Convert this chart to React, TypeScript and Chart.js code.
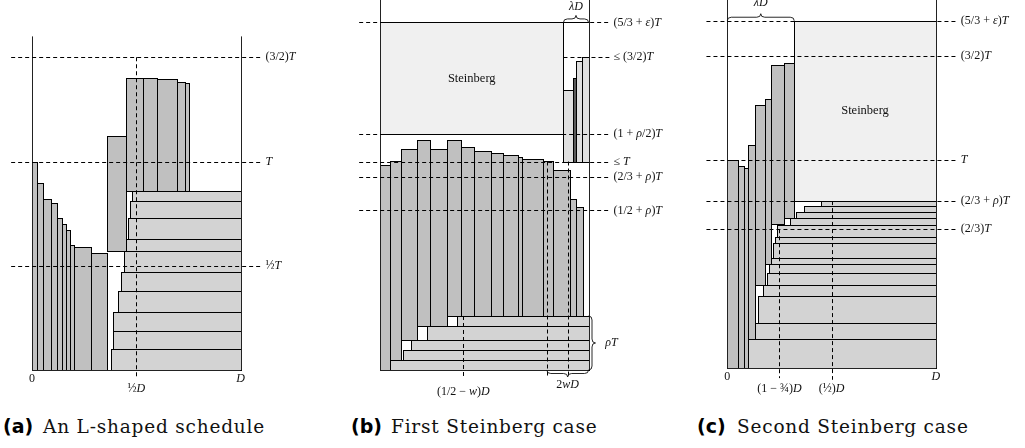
import React, { useEffect, useRef } from "react";
import { Chart, registerables } from "chart.js";

Chart.register(...registerables);

// Box = [x0, x1, y0, y1] with x in units of D and y in units of T
type Box = [number, number, number, number];

// ===== Panel (a): An L-shaped schedule =====
const aShortJobs: Box[] = [
  [0, 0.0225, 0, 1.0],
  [0.0225, 0.051, 0, 0.899],
  [0.051, 0.091, 0, 0.819],
  [0.091, 0.121, 0, 0.8],
  [0.121, 0.142, 0, 0.73],
  [0.142, 0.162, 0, 0.699],
  [0.162, 0.182, 0, 0.672],
  [0.182, 0.201, 0, 0.6],
  [0.201, 0.282, 0, 0.589],
  [0.282, 0.361, 0, 0.56],
];
const aMovedJob: Box[] = [[0.361, 0.451, 0.57, 1.123]];
const aTallJobs: Box[] = [
  [0.451, 0.531, 0.859, 1.4],
  [0.531, 0.601, 0.859, 1.4],
  [0.601, 0.694, 0.859, 1.397],
  [0.694, 0.734, 0.859, 1.38],
  [0.734, 0.752, 0.859, 1.376],
];
const aWideJobs: Box[] = [
  [0.38, 1, 0, 0.099],
  [0.39, 1, 0.099, 0.189],
  [0.39, 1, 0.189, 0.278],
  [0.411, 1, 0.278, 0.379],
  [0.428, 1, 0.379, 0.469],
  [0.44, 1, 0.469, 0.57],
  [0.451, 1, 0.57, 0.629],
  [0.46, 1, 0.629, 0.73],
  [0.47, 1, 0.73, 0.81],
  [0.481, 1, 0.81, 0.859],
];
const aLevels = [1.5, 1, 0.5];
const aLevelFrom = [-0.1, -0.1, -0.1];
const aLevelLabels = ["(3/2)T", "T", "½T"];
const aXTicks = [0, 0.5, 1];
const aXTickY = [-0.043, -0.09, -0.043];
const aXLabels = ["0", "½D", "D"];
const aVDash: [number, number, number][] = [[0.5, -0.04, 1.5]];

// ===== Panel (b): First Steinberg case =====
const bTallJobs: Box[] = [
  [0, 0.05, 0, 0.983],
  [0.05, 0.099, 0.05, 1.002],
  [0.099, 0.179, 0.142, 1.061],
  [0.179, 0.24, 0.211, 1.101],
  [0.24, 0.319, 0.211, 1.061],
  [0.319, 0.39, 0.259, 1.101],
  [0.39, 0.45, 0.259, 1.071],
  [0.45, 0.53, 0.259, 1.05],
  [0.53, 0.589, 0.259, 1.04],
  [0.589, 0.661, 0.259, 1.031],
  [0.661, 0.68, 0.259, 1.021],
  [0.68, 0.781, 0.259, 1.011],
  [0.781, 0.829, 0.259, 1.002],
  [0.829, 0.909, 0.259, 0.961],
  [0.909, 0.941, 0.259, 0.819],
  [0.941, 0.973, 0.259, 0.781],
];
const bWideJobs: Box[] = [
  [0.05, 1, 0, 0.05],
  [0.108, 1, 0.05, 0.096],
  [0.15, 1, 0.096, 0.142],
  [0.227, 1, 0.142, 0.211],
  [0.37, 1, 0.211, 0.259],
];
const bSteinberg: Box[] = [[0, 0.88, 1.131, 1.667]];
const bLambdaBox: Box[] = [[0.88, 1, 1, 1.667]];
const bLambdaJobs: Box[] = [
  [0.88, 0.928, 1, 1.341],
  [0.941, 0.971, 1, 1.48],
  [0.971, 1, 1, 1.5],
];
const bLambdaDark: Box[] = [[0.928, 0.941, 1, 1.4]];
const bLevels = [1.667, 1.5, 1.131, 1, 0.928, 0.765];
const bLevelFrom = [-0.1, 0.88, -0.1, -0.1, -0.1, -0.1];
const bLevelLabels = ["(5/3 + ε)T", "≤ (3/2)T", "(1 + ρ/2)T", "≤ T", "(2/3 + ρ)T", "(1/2 + ρ)T"];
const bXTicks = [0.4, 0.9];
const bXTickY = [-0.105, -0.072];
const bXLabels = ["(1/2 − w)D", "2wD"];
const bVDash: [number, number, number][] = [
  [0.4, -0.03, 0.259],
  [0.8, -0.03, 1],
  [0.9, -0.03, 1],
];

// ===== Panel (c): Second Steinberg case =====
const cTallJobs: Box[] = [
  [0, 0.05, 0, 1.0],
  [0.05, 0.08, 0, 0.971],
  [0.08, 0.101, 0, 0.96],
  [0.101, 0.131, 0.139, 1.072],
  [0.131, 0.179, 0.4, 1.262],
  [0.179, 0.211, 0.5, 1.293],
  [0.211, 0.27, 0.693, 1.453],
  [0.27, 0.321, 0.723, 1.464],
];
const cWideJobs: Box[] = [
  [0.101, 1, 0, 0.139],
  [0.131, 1, 0.139, 0.219],
  [0.149, 1, 0.219, 0.349],
  [0.17, 1, 0.349, 0.398],
  [0.189, 1, 0.398, 0.459],
  [0.2, 1, 0.459, 0.501],
  [0.211, 1, 0.501, 0.531],
  [0.221, 1, 0.531, 0.6],
  [0.23, 1, 0.6, 0.63],
  [0.24, 1, 0.63, 0.688],
  [0.299, 1, 0.688, 0.72],
  [0.329, 1, 0.72, 0.749],
  [0.369, 1, 0.749, 0.779],
  [0.449, 1, 0.779, 0.802],
];
const cSteinberg: Box[] = [[0.321, 1, 0.802, 1.667]];
const cLevels = [1.667, 1.5, 1, 0.802, 0.667];
const cLevelFrom = [-0.1, -0.1, -0.1, -0.1, -0.1];
const cLevelLabels = ["(5/3 + ε)T", "(3/2)T", "T", "(2/3 + ρ)T", "(2/3)T"];
const cXTicks = [0, 0.25, 0.5, 1];
const cXTickY = [-0.042, -0.1, -0.1, -0.042];
const cXLabels = ["0", "(1 − ¾)D", "(½)D", "D"];
const cVDash: [number, number, number][] = [
  [0.25, -0.047, 0.667],
  [0.5, -0.055, 0.802],
];

// ===== Styling =====
const DARK = "#c0c0c0";
const LIGHT = "#d3d3d3";
const PALE = "#f0f0f0";
const LAMBDA = "#e0e0e0";
const LAMBDA_DARK = "#5a5a5a";
const MATH_FONT = '"Liberation Serif"';

type Group = { boxes: Box[]; fill: string };
type Brace = { p1: [number, number]; p2: [number, number]; dir: "up" | "down" | "right"; label?: string; lx?: number; ly?: number; align?: CanvasTextAlign };
type Spec = {
  groups: Group[];
  axisTop: number;
  levels: number[];
  levelFrom: number[];
  levelLabels: string[];
  xTicks: number[];
  xTickY: number[];
  xLabels: string[];
  vDash: [number, number, number][];
  braces: Brace[];
  title?: { box: Box; text: string };
};

function mathText(ctx: CanvasRenderingContext2D, s: string, x: number, y: number, align: CanvasTextAlign, size: number, plain = false) {
  const parts: { t: string; it: boolean }[] = [];
  for (const ch of s) {
    const it = !plain && /[A-Za-zελρ]/.test(ch);
    const last = parts[parts.length - 1];
    if (last && last.it === it) last.t += ch;
    else parts.push({ t: ch, it });
  }
  const fU = `${size}px ${MATH_FONT}`;
  const fI = `italic ${size}px ${MATH_FONT}`;
  let total = 0;
  const widths = parts.map((p) => {
    ctx.font = p.it ? fI : fU;
    const w = ctx.measureText(p.t).width;
    total += w;
    return w;
  });
  let cx = align === "center" ? x - total / 2 : align === "right" ? x - total : x;
  ctx.textBaseline = "middle";
  ctx.textAlign = "left";
  ctx.fillStyle = "#111";
  parts.forEach((p, i) => {
    ctx.font = p.it ? fI : fU;
    ctx.fillText(p.t, cx, y);
    cx += widths[i];
  });
}

function drawBrace(ctx: CanvasRenderingContext2D, x1: number, y1: number, x2: number, y2: number, nx: number, ny: number) {
  const dx = x2 - x1, dy = y2 - y1;
  const len = Math.hypot(dx, dy);
  const ux = dx / len, uy = dy / len;
  const r = Math.min(4, len / 5);
  const mx = (x1 + x2) / 2, my = (y1 + y2) / 2;
  const hx = nx / 2, hy = ny / 2;
  ctx.beginPath();
  ctx.moveTo(x1, y1);
  ctx.quadraticCurveTo(x1 + hx, y1 + hy, x1 + ux * r + hx, y1 + uy * r + hy);
  ctx.lineTo(mx - ux * r + hx, my - uy * r + hy);
  ctx.quadraticCurveTo(mx + hx, my + hy, mx + nx, my + ny);
  ctx.quadraticCurveTo(mx + hx, my + hy, mx + ux * r + hx, my + uy * r + hy);
  ctx.lineTo(x2 - ux * r + hx, y2 - uy * r + hy);
  ctx.quadraticCurveTo(x2 + hx, y2 + hy, x2, y2);
  ctx.stroke();
}

function makePlugin(spec: Spec) {
  return {
    id: "scheduleDraw",
    afterDraw(chart: any) {
      const ctx = chart.ctx as CanvasRenderingContext2D;
      const X = (v: number) => chart.scales.x.getPixelForValue(v);
      const Y = (v: number) => chart.scales.y.getPixelForValue(v);
      const snap = (p: number) => Math.round(p) + 0.5;
      ctx.save();
      ctx.lineWidth = 1;
      // rectangles
      for (const g of spec.groups) {
        for (const b of g.boxes) {
          const x0 = snap(X(b[0])), x1 = snap(X(b[1]));
          const y0 = snap(Y(b[2])), y1 = snap(Y(b[3]));
          ctx.fillStyle = g.fill;
          ctx.fillRect(x0, y1, x1 - x0, y0 - y1);
          ctx.strokeStyle = "#000";
          ctx.strokeRect(x0, y1, x1 - x0, y0 - y1);
        }
      }
      // frame (0 and D)
      ctx.strokeStyle = "#222";
      ctx.setLineDash([]);
      for (const xv of [0, 1]) {
        ctx.beginPath();
        ctx.moveTo(snap(X(xv)), Y(0));
        ctx.lineTo(snap(X(xv)), Y(spec.axisTop));
        ctx.stroke();
      }
      ctx.beginPath();
      ctx.moveTo(X(0), snap(Y(0)));
      ctx.lineTo(X(1), snap(Y(0)));
      ctx.stroke();
      // dashed levels
      ctx.setLineDash([4, 3]);
      ctx.strokeStyle = "#000";
      spec.levels.forEach((lv, i) => {
        ctx.beginPath();
        ctx.moveTo(X(spec.levelFrom[i]), snap(Y(lv)));
        ctx.lineTo(X(1.1), snap(Y(lv)));
        ctx.stroke();
      });
      for (const [xv, y0, y1] of spec.vDash) {
        ctx.beginPath();
        ctx.moveTo(snap(X(xv)), Y(y1));
        ctx.lineTo(snap(X(xv)), Y(y0));
        ctx.stroke();
      }
      ctx.setLineDash([]);
      // braces
      ctx.strokeStyle = "#111";
      ctx.lineWidth = 0.9;
      for (const br of spec.braces) {
        const d = 7;
        const n = br.dir === "up" ? [0, -d] : br.dir === "down" ? [0, d] : [d, 0];
        drawBrace(ctx, X(br.p1[0]), Y(br.p1[1]), X(br.p2[0]), Y(br.p2[1]), n[0], n[1]);
        if (br.label) mathText(ctx, br.label, X(br.lx!), Y(br.ly!), br.align || "center", 12);
      }
      // labels
      spec.levels.forEach((lv, i) => mathText(ctx, spec.levelLabels[i], X(1.12), Y(lv), "left", 12));
      spec.xTicks.forEach((xv, i) => mathText(ctx, spec.xLabels[i], X(xv), Y(spec.xTickY[i]), "center", 12));
      if (spec.title) {
        const b = spec.title.box;
        mathText(ctx, spec.title.text, X((b[0] + b[1]) / 2), Y((b[2] + b[3]) / 2), "center", 12.5, true);
      }
      ctx.restore();
    },
  };
}

const specA: Spec = {
  groups: [
    { boxes: aWideJobs, fill: LIGHT },
    { boxes: aShortJobs, fill: DARK },
    { boxes: aMovedJob, fill: DARK },
    { boxes: aTallJobs, fill: DARK },
  ],
  axisTop: 1.6,
  levels: aLevels,
  levelFrom: aLevelFrom,
  levelLabels: aLevelLabels,
  xTicks: aXTicks,
  xTickY: aXTickY,
  xLabels: aXLabels,
  vDash: aVDash,
  braces: [],
};

const specB: Spec = {
  groups: [
    { boxes: bWideJobs, fill: LIGHT },
    { boxes: bTallJobs, fill: DARK },
    { boxes: bSteinberg, fill: PALE },
    { boxes: bLambdaBox, fill: "#ffffff" },
    { boxes: bLambdaJobs, fill: LAMBDA },
    { boxes: bLambdaDark, fill: LAMBDA_DARK },
  ],
  axisTop: 1.8,
  levels: bLevels,
  levelFrom: bLevelFrom,
  levelLabels: bLevelLabels,
  xTicks: bXTicks,
  xTickY: bXTickY,
  xLabels: bXLabels,
  vDash: bVDash,
  braces: [
    { p1: [0.88, 1.667], p2: [1.0, 1.667], dir: "up", label: "λD", lx: 0.94, ly: 1.743 },
    { p1: [0.8, 0], p2: [1.0, 0], dir: "down" },
    { p1: [1.0, 0.259], p2: [1.0, 0], dir: "right", label: "ρT", lx: 1.08, ly: 0.13, align: "left" },
  ],
  title: { box: bSteinberg[0], text: "Steinberg" },
};

const specC: Spec = {
  groups: [
    { boxes: cWideJobs, fill: LIGHT },
    { boxes: cTallJobs, fill: DARK },
    { boxes: cSteinberg, fill: PALE },
  ],
  axisTop: 1.8,
  levels: cLevels,
  levelFrom: cLevelFrom,
  levelLabels: cLevelLabels,
  xTicks: cXTicks,
  xTickY: cXTickY,
  xLabels: cXLabels,
  vDash: cVDash,
  braces: [{ p1: [0, 1.667], p2: [0.321, 1.667], dir: "up", label: "λD", lx: 0.16, ly: 1.755 }],
  title: { box: cSteinberg[0], text: "Steinberg" },
};

const H = 405;
const S = 208.5;

function Panel({ spec, left, width, ox, oy }: { spec: Spec; left: number; width: number; ox: number; oy: number }) {
  const ref = useRef<HTMLCanvasElement>(null);
  useEffect(() => {
    const canvas = ref.current!;
    const rx = ox - left;
    const chart = new Chart(canvas, {
      type: "scatter",
      data: { datasets: [] },
      options: {
        responsive: false,
        animation: false,
        events: [],
        layout: { padding: 0 },
        plugins: { legend: { display: false }, tooltip: { enabled: false } },
        scales: {
          x: { type: "linear", display: false, min: -rx / S, max: (width - rx) / S },
          y: { type: "linear", display: false, min: (oy - H) / S, max: oy / S },
        },
      },
      plugins: [makePlugin(spec)],
    });
    return () => chart.destroy();
  }, []);
  return (
    <canvas
      ref={ref}
      width={width}
      height={H}
      style={{ position: "absolute", left, top: 0, width, height: H }}
    />
  );
}

function Caption({ left, tag, text }: { left: number; tag: string; text: string }) {
  return (
    <>
      <span
        style={{
          position: "absolute",
          left,
          top: 417,
          fontFamily: '"DejaVu Sans"',
          fontWeight: 700,
          fontSize: 19,
          lineHeight: "19px",
          whiteSpace: "nowrap",
        }}
      >
        {tag}
      </span>
      <span
        style={{
          position: "absolute",
          left: left + 40,
          top: 418,
          fontFamily: '"DejaVu Serif"',
          fontSize: 18.5,
          letterSpacing: "0.8px",
          lineHeight: "18px",
          whiteSpace: "nowrap",
          color: "#111",
        }}
      >
        {text}
      </span>
    </>
  );
}

export default function App() {
  return (
    <div style={{ position: "absolute", left: 0, top: 0, width: 1025, height: 448, background: "#fff", overflow: "hidden" }}>
      <Panel spec={specA} left={0} width={340} ox={32} oy={370} />
      <Panel spec={specB} left={340} width={350} ox={380} oy={370} />
      <Panel spec={specC} left={690} width={335} ox={727.3} oy={368.3} />
      <Caption left={3} tag="(a)" text="An L-shaped schedule" />
      <Caption left={351} tag="(b)" text="First Steinberg case" />
      <Caption left={697} tag="(c)" text="Second Steinberg case" />
    </div>
  );
}
